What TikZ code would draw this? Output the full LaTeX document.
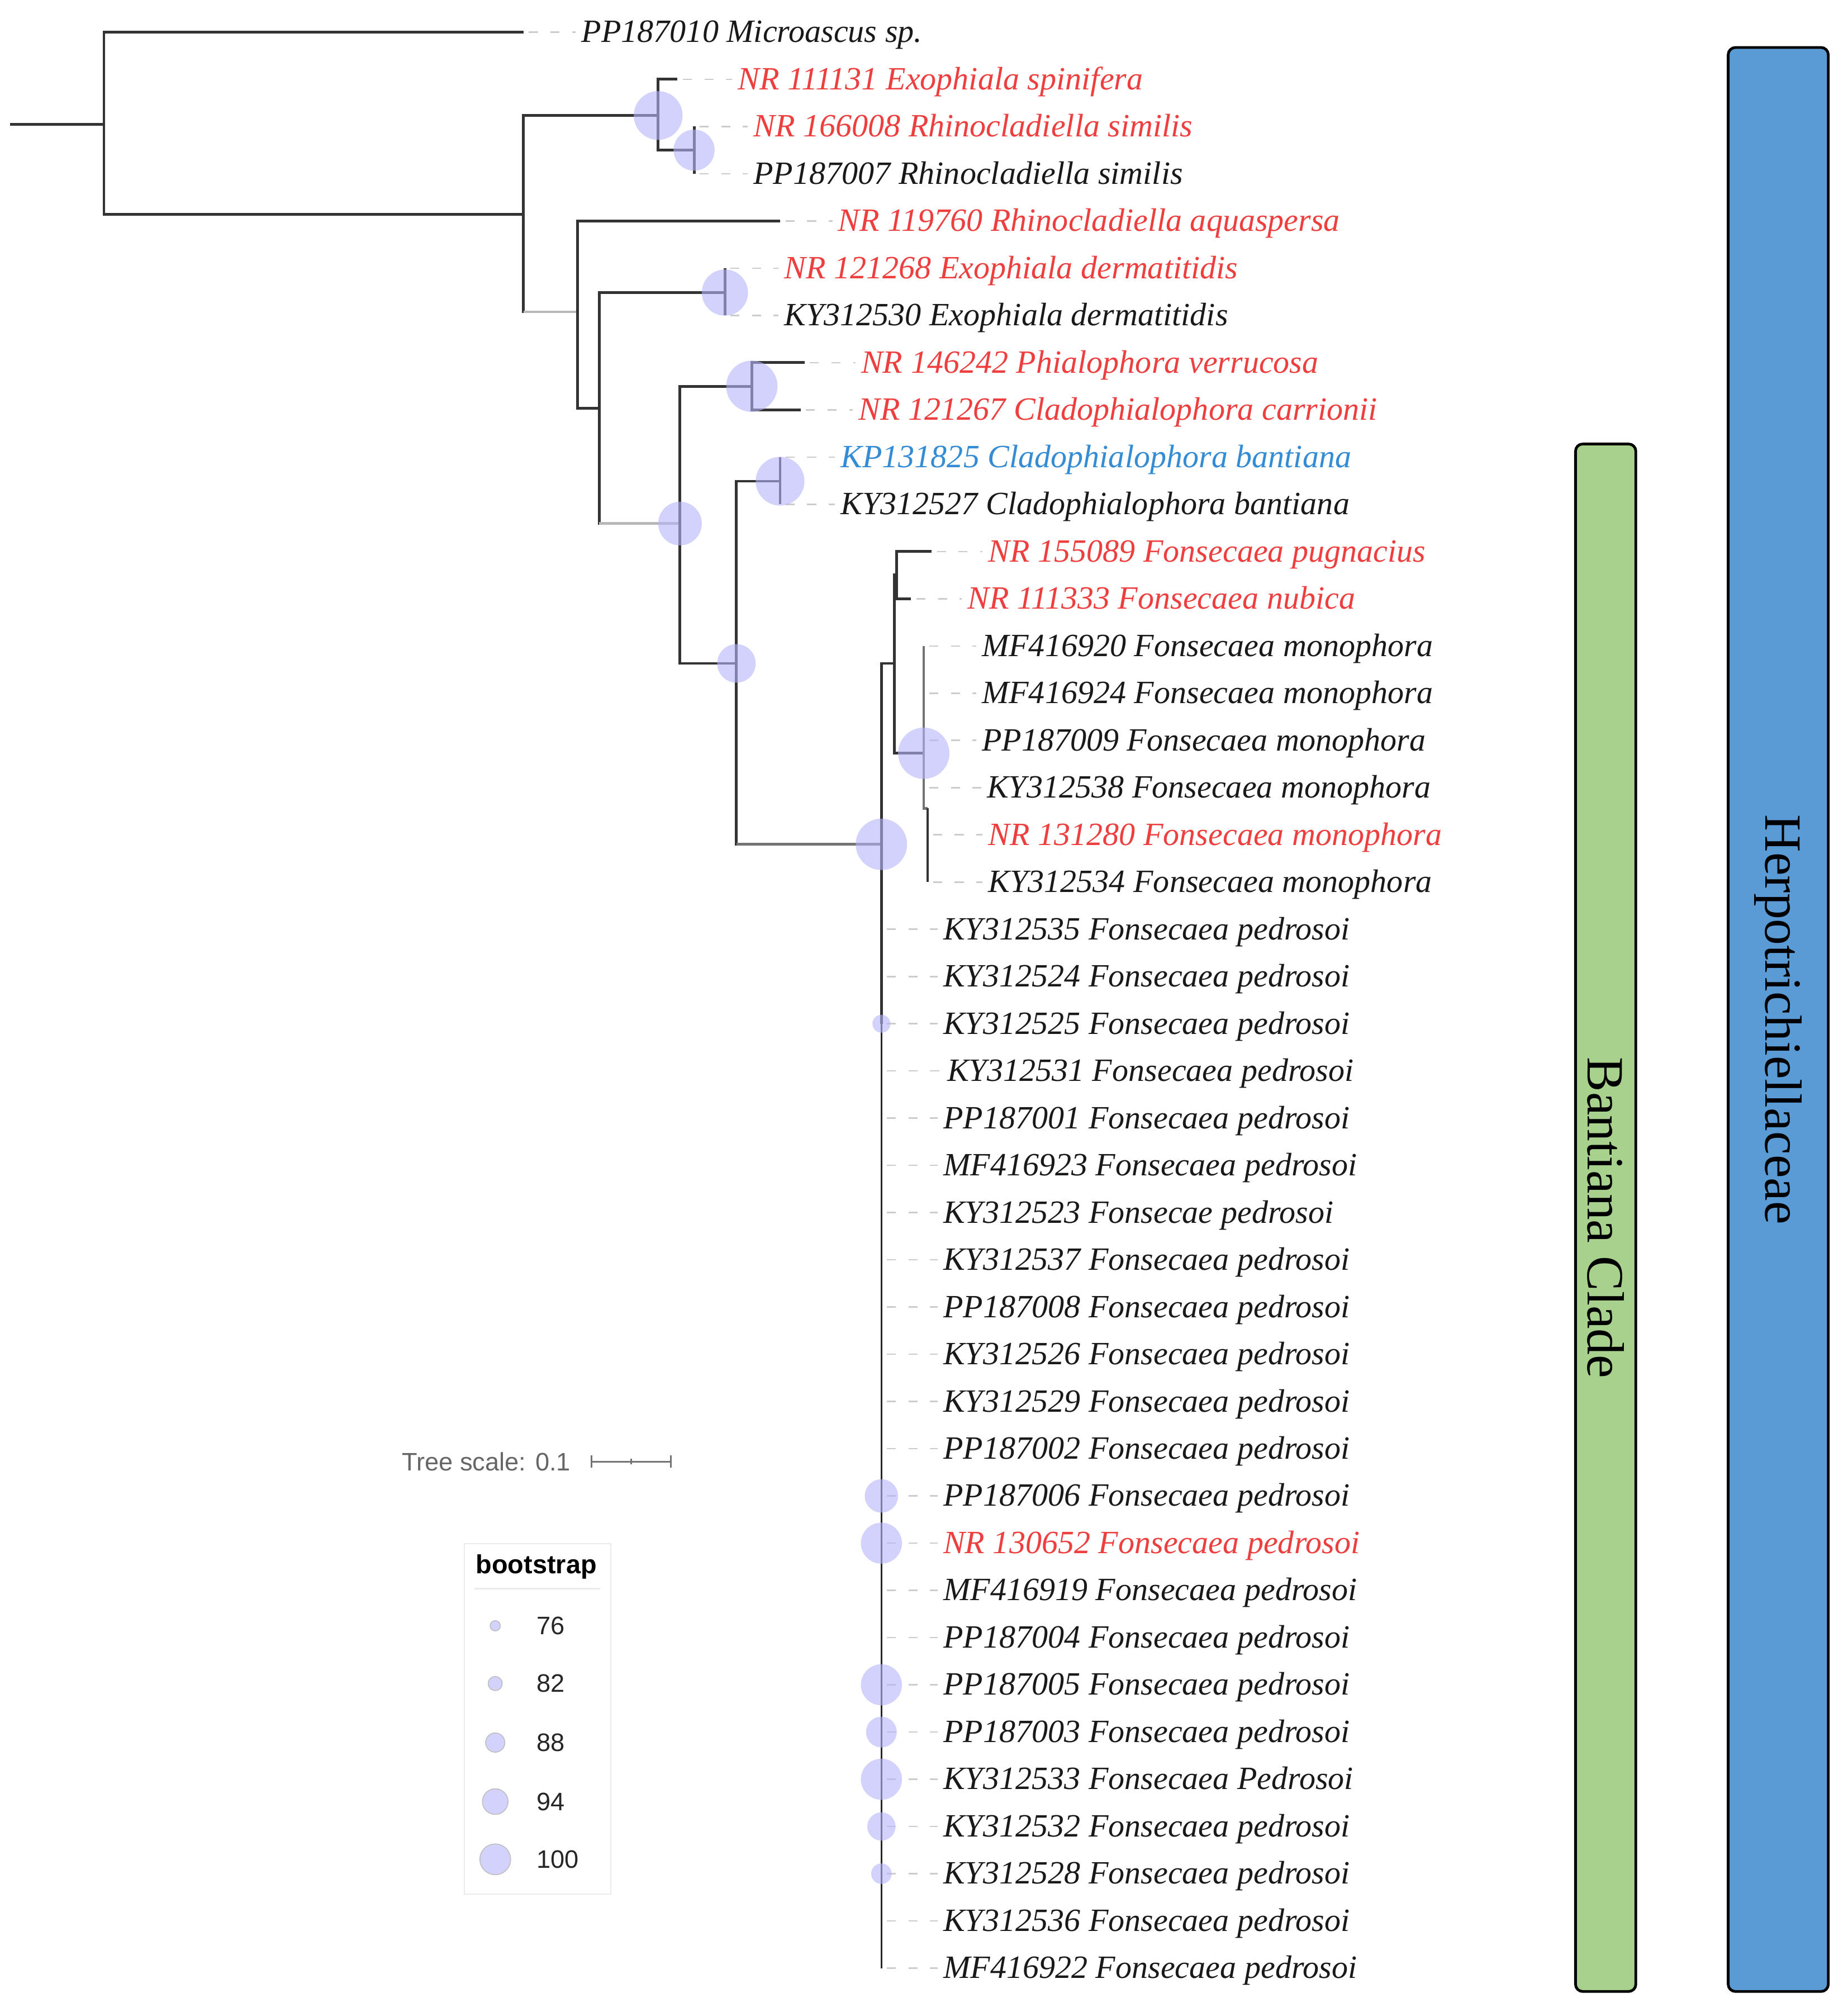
\documentclass[tikz,border=0pt]{standalone}
\usepackage{fontspec}
\setmainfont{Liberation Serif}
\setsansfont{Liberation Sans}
\definecolor{labred}{RGB}{238,62,62}
\definecolor{labblue}{RGB}{52,140,212}
\definecolor{labk}{RGB}{25,25,25}
\definecolor{bootc}{RGB}{180,180,250}
\definecolor{barblue}{RGB}{91,155,213}
\definecolor{bargreen}{RGB}{169,209,142}
\begin{document}
\begin{tikzpicture}[x=0.025cm,y=-0.025cm,
  br/.style={draw=black!80,line width=1.5pt},
  brl/.style={draw=black!28,line width=1.5pt},
  brm/.style={draw=black!55,line width=1.5pt},
  brthin/.style={draw=black!85,line width=0.8pt},
  lead/.style={draw=black!20,line width=0.8pt,dash pattern=on 5pt off 7pt,shorten <=3pt,shorten >=3pt},
  lab/.style={anchor=west,inner sep=0pt,text height=0.6cm,text depth=0.2cm,font=\itshape\fontsize{18}{20}\selectfont},
  boot/.style={circle,fill=bootc,fill opacity=0.6,draw=none,inner sep=0pt,minimum size=#1*0.05cm},
  legc/.style={circle,fill=bootc,fill opacity=0.6,draw=black!25,line width=0.5pt,inner sep=0pt,minimum size=#1*0.05cm},
  cladebar/.style={draw=black,line width=1.5pt,rounded corners=4pt,rotate=-90,inner sep=0pt,font=\fontsize{29}{32}\selectfont},
  sans/.style={font=\sffamily\fontsize{14}{16}\selectfont,inner sep=0pt}
]
\useasboundingbox (0,0) rectangle (1440,1568);

% ---- leaves ----
\foreach \i/\tx/\lx/\col/\txt in {
1/408/453/labk/{PP187010 Microascus sp.},
2/528/575/labred/{NR 111131 Exophiala spinifera},
3/541/587/labred/{NR 166008 Rhinocladiella similis},
4/541/587/labk/{PP187007 Rhinocladiella similis},
5/608/653/labred/{NR 119760 Rhinocladiella aquaspersa},
6/565/611/labred/{NR 121268 Exophiala dermatitidis},
7/565/611/labk/{KY312530 Exophiala dermatitidis},
8/627/671/labred/{NR 146242 Phialophora verrucosa},
9/624/669/labred/{NR 121267 Cladophialophora carrionii},
10/608/655/labblue/{KP131825 Cladophialophora bantiana},
11/608/655/labk/{KY312527 Cladophialophora bantiana},
12/726/770/labred/{NR 155089 Fonsecaea pugnacius},
13/710/754/labred/{NR 111333 Fonsecaea nubica},
14/720/765/labk/{MF416920 Fonsecaea monophora},
15/720/765/labk/{MF416924 Fonsecaea monophora},
16/720/765/labk/{PP187009 Fonsecaea monophora},
17/720/769/labk/{KY312538 Fonsecaea monophora},
18/723/770/labred/{NR 131280 Fonsecaea monophora},
19/723/770/labk/{KY312534 Fonsecaea monophora},
20/687/735/labk/{KY312535 Fonsecaea pedrosoi},
21/687/735/labk/{KY312524 Fonsecaea pedrosoi},
22/687/735/labk/{KY312525 Fonsecaea pedrosoi},
23/687/738/labk/{KY312531 Fonsecaea pedrosoi},
24/687/735/labk/{PP187001 Fonsecaea pedrosoi},
25/687/735/labk/{MF416923 Fonsecaea pedrosoi},
26/687/735/labk/{KY312523 Fonsecae pedrosoi},
27/687/735/labk/{KY312537 Fonsecaea pedrosoi},
28/687/735/labk/{PP187008 Fonsecaea pedrosoi},
29/687/735/labk/{KY312526 Fonsecaea pedrosoi},
30/687/735/labk/{KY312529 Fonsecaea pedrosoi},
31/687/735/labk/{PP187002 Fonsecaea pedrosoi},
32/687/735/labk/{PP187006 Fonsecaea pedrosoi},
33/687/735/labred/{NR 130652 Fonsecaea pedrosoi},
34/687/735/labk/{MF416919 Fonsecaea pedrosoi},
35/687/735/labk/{PP187004 Fonsecaea pedrosoi},
36/687/735/labk/{PP187005 Fonsecaea pedrosoi},
37/687/735/labk/{PP187003 Fonsecaea pedrosoi},
38/687/735/labk/{KY312533 Fonsecaea Pedrosoi},
39/687/735/labk/{KY312532 Fonsecaea pedrosoi},
40/687/735/labk/{KY312528 Fonsecaea pedrosoi},
41/687/735/labk/{KY312536 Fonsecaea pedrosoi},
42/687/735/labk/{MF416922 Fonsecaea pedrosoi}}{
  \coordinate (t\i) at (\tx,{25+(\i-1)*36.8});
  \node[lab,text=\col] (n\i) at (\lx,{25+(\i-1)*36.8}) {\txt};
  \draw[lead] (t\i) -- (n\i.west);
}

% ---- internal nodes ----
\coordinate (root) at (8,97);
\coordinate (A) at (81,97);
\coordinate (B) at (408,167);
\coordinate (C) at (513,90);
\coordinate (D) at (541,117);
\coordinate (E) at (450,243);
\coordinate (F) at (467,318);
\coordinate (G) at (565,228);
\coordinate (H) at (530,408);
\coordinate (I) at (586,301);
\coordinate (J) at (574,517);
\coordinate (K) at (608,375);
\coordinate (L) at (687,658);
\coordinate (M) at (697,517);
\coordinate (N) at (699,448);
\coordinate (O) at (720,587);
\coordinate (P) at (723,630);

% ---- branches ----
\draw[br] (root) -- (A);
\draw[br] (A) |- (t1);
\draw[br] (A) |- (B);
\draw[br] (B) |- (C);
\draw[br] (B) |- (E);
\draw[brl] (B|-E) -- (E);
\draw[br] (C) |- (t2);
\draw[br] (C) |- (D);
\draw[br] (D) |- (t3);
\draw[br] (D) |- (t4);
\draw[br] (E) |- (t5);
\draw[br] (E) |- (F);
\draw[br] (F) |- (G);
\draw[br] (F) |- (H);
\draw[brl] (F|-H) -- (H);
\draw[br] (G) |- (t6);
\draw[br] (G) |- (t7);
\draw[br] (H) |- (I);
\draw[br] (H) |- (J);
\draw[br] (I) |- (t8);
\draw[br] (I) |- (t9);
\draw[br] (J) |- (K);
\draw[br] (J) |- (L);
\draw[brm] (J|-L) -- (L);
\draw[br] (K) |- (t10);
\draw[br] (K) |- (t11);
\draw[br] (L) |- (M);
\draw[br] (L) -- (t22);
\draw[brthin] (t22) -- (t42);
\draw[br] (M) |- (N);
\draw[br] (M) |- (O);
\draw[br] (N) |- (t12);
\draw[br] (N) |- (t13);
\draw[brm] (O) |- (t14);
\draw[brm] (O) |- (t17);
\draw[brm] (O) |- (P);
\draw[br] (P) |- (t18);
\draw[br] (P) |- (t19);

% ---- bootstrap circles ----
\node[boot=19] (bC) at (C) {};
\node[boot=16] (bD) at (D) {};
\node[boot=18] (bG) at (G) {};
\node[boot=20] (bI) at (I) {};
\node[boot=19] (bK) at (K) {};
\node[boot=17] (bH) at (H) {};
\node[boot=15] (bJ) at (J) {};
\node[boot=20] (bO) at (O) {};
\node[boot=20] (bL) at (L) {};
\node[boot=7]  (b22) at (t22) {};
\node[boot=13] (b32) at (t32) {};
\node[boot=16] (b33) at (t33) {};
\node[boot=16] (b36) at (t36) {};
\node[boot=12] (b37) at (t37) {};
\node[boot=16] (b38) at (t38) {};
\node[boot=11] (b39) at (t39) {};
\node[boot=8]  (b40) at (t40) {};

% ---- scale bar ----
\node[sans,anchor=east,text=black!60] (ts) at (445,1139) {Tree scale: 0.1};
\coordinate (sb1) at (461,1139);
\coordinate (sb2) at (523,1139);
\coordinate (sbm) at (492,1139);
\draw[black!55,line width=0.9pt] (sb1) -- (sb2);
\draw[black!55,line width=0.9pt] ([yshift=0.12cm]sb1) -- ([yshift=-0.12cm]sb1);
\draw[black!55,line width=0.9pt] ([yshift=0.12cm]sb2) -- ([yshift=-0.12cm]sb2);
\draw[black!55,line width=0.7pt] ([yshift=0.05cm]sbm) -- ([yshift=-0.05cm]sbm);

% ---- legend ----
\node[draw=black!8,line width=0.8pt,minimum width=114*0.025cm,minimum height=273*0.025cm,inner sep=0pt] (legbox) at (419,1339.5) {};
\node[font=\sffamily\bfseries\fontsize{14.5}{16}\selectfont,inner sep=0pt] (legt) at (418,1221) {bootstrap};
\coordinate (sep1) at (370,1238);
\coordinate (sep2) at (468,1238);
\draw[black!8,line width=0.8pt] (sep1) -- (sep2);
\foreach \v/\yy/\r in {76/1267/4,82/1312/5.5,88/1358/7.5,94/1404/10,100/1449/12}{
  \node[legc=\r] (lc\v) at (386,\yy) {};
  \node[sans,anchor=west,text=black!85] (lt\v) at (418,\yy) {\v};
}

% ---- clade bars ----
\node[cladebar,fill=barblue,minimum width=1515*0.025cm,minimum height=78*0.025cm] (herp) at (1386,794.5) {Herpotrichiellaceae};
\node[cladebar,fill=bargreen,minimum width=1206*0.025cm,minimum height=47*0.025cm] (bant) at (1251.5,949) {Bantiana Clade};
\end{tikzpicture}
\end{document}
